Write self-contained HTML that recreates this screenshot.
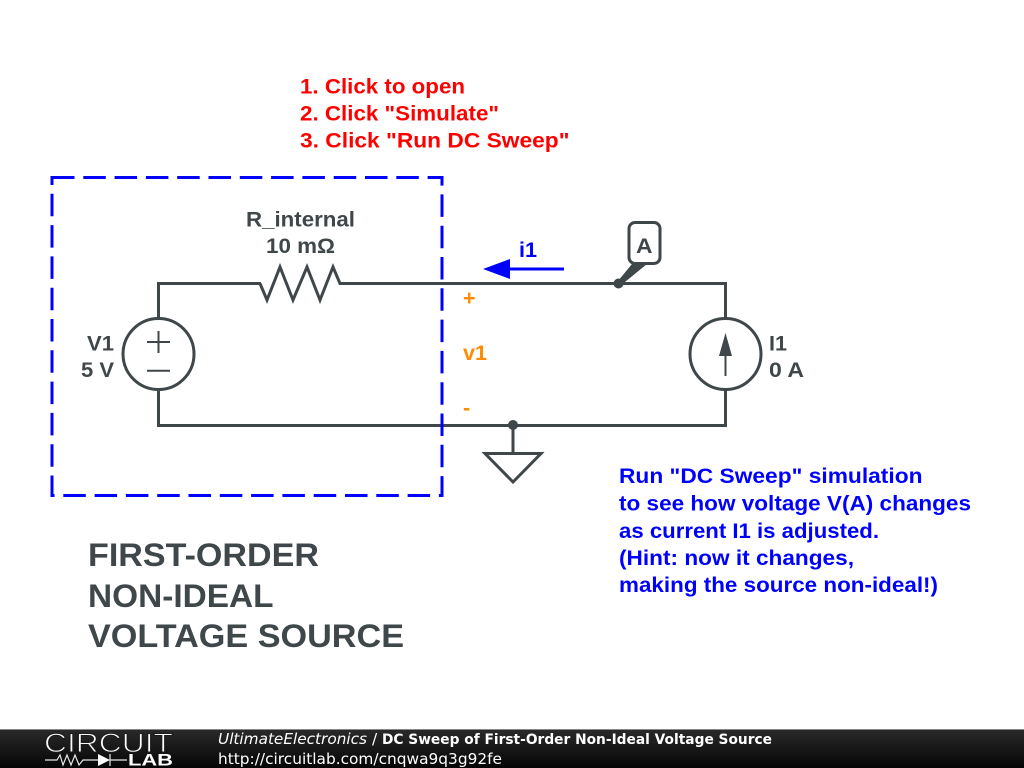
<!DOCTYPE html>
<html><head><meta charset="utf-8"><style>
html,body{margin:0;padding:0;background:#fff;width:1024px;height:768px;overflow:hidden}
svg{display:block}
text{font-family:"Liberation Sans",sans-serif;font-weight:bold}
.c{font-size:21.5px;fill:#3f474a}
.r{font-size:21.5px;fill:#f00}
.b{font-size:21.5px;fill:#00f}
.o{font-size:21.5px;fill:#ff8c00}
.t{font-size:32.5px;fill:#3f474a}
.f{font-family:"DejaVu Sans",sans-serif;font-size:15.4px;fill:#fff;font-weight:normal}
</style></head><body>
<svg width="1024" height="768" viewBox="0 0 1024 768" xmlns="http://www.w3.org/2000/svg">
<defs><linearGradient id="g" x1="0" y1="0" x2="0" y2="1"><stop offset="0" stop-color="#2a2a2a"/><stop offset="1" stop-color="#050505"/></linearGradient></defs>
<g fill="none" stroke="#3f474a" stroke-width="3">
<path d="M261 283.5H158.500V319M158.500 389V425.500H725.500V389M725.500 319V283.500H340"/>
<path d="M260 283.500L267 300L280 267L293 300L307 267L320 300L333 267L340 283.500H343"/>
<circle cx="158.500" cy="354" r="35.500"/>
<circle cx="725.500" cy="354" r="35.500"/>
<path d="M513 425V453M485 453.500H541L513 482Z"/>
<rect x="629" y="222.500" width="31" height="41" rx="6"/>
</g>
<g stroke="#3f474a" stroke-width="2" fill="none">
<path d="M147 342H170M158.500 331V353M147 370.700H170M725.500 376V345"/>
</g>
<path d="M725.500 333L732 356H719Z" fill="#3f474a"/>
<circle cx="618.500" cy="283.500" r="5" fill="#3f474a"/>
<circle cx="513" cy="425" r="5" fill="#3f474a"/>
<path d="M618 281L632 264H647L620 286Z" fill="#3f474a"/>
<path d="M52 177.500H442V495.500H52Z" fill="none" stroke="#00f" stroke-width="3" stroke-dasharray="22.500 8.800"/>
<path d="M509 269H564" stroke="#00f" stroke-width="3"/>
<path d="M483 269L510 259V279Z" fill="#00f"/>
<text class="r" x="300" y="93.500" textLength="165" lengthAdjust="spacingAndGlyphs">1. Click to open</text>
<text class="r" x="300" y="120.500" textLength="199" lengthAdjust="spacingAndGlyphs">2. Click "Simulate"</text>
<text class="r" x="300" y="147.500" textLength="269.500" lengthAdjust="spacingAndGlyphs">3. Click "Run DC Sweep"</text>
<text class="c" x="246" y="226.500" textLength="109" lengthAdjust="spacingAndGlyphs">R_internal</text>
<text class="c" x="266" y="253" textLength="69" lengthAdjust="spacingAndGlyphs">10 mΩ</text>
<text class="c" x="87" y="350.500" textLength="27" lengthAdjust="spacingAndGlyphs">V1</text>
<text class="c" x="81" y="377" textLength="33" lengthAdjust="spacingAndGlyphs">5 V</text>
<text class="c" x="769" y="350.500" textLength="18" lengthAdjust="spacingAndGlyphs">I1</text>
<text class="c" x="769" y="377" textLength="35" lengthAdjust="spacingAndGlyphs">0 A</text>
<text class="c" x="636" y="253" textLength="16.500" lengthAdjust="spacingAndGlyphs">A</text>
<text class="b" x="519" y="257" textLength="18" lengthAdjust="spacingAndGlyphs">i1</text>
<text class="o" x="463" y="305">+</text>
<text class="o" x="463" y="360" textLength="24" lengthAdjust="spacingAndGlyphs">v1</text>
<text class="o" x="463" y="415">-</text>
<text class="b" x="619" y="483" textLength="303.500" lengthAdjust="spacingAndGlyphs">Run "DC Sweep" simulation</text>
<text class="b" x="619" y="510.500" textLength="352" lengthAdjust="spacingAndGlyphs">to see how voltage V(A) changes</text>
<text class="b" x="619" y="538" textLength="260" lengthAdjust="spacingAndGlyphs">as current I1 is adjusted.</text>
<text class="b" x="619" y="565" textLength="235" lengthAdjust="spacingAndGlyphs">(Hint: now it changes,</text>
<text class="b" x="619" y="592" textLength="319" lengthAdjust="spacingAndGlyphs">making the source non-ideal!)</text>
<text class="t" x="88" y="566" textLength="231" lengthAdjust="spacingAndGlyphs">FIRST-ORDER</text>
<text class="t" x="88" y="607" textLength="185.500" lengthAdjust="spacingAndGlyphs">NON-IDEAL</text>
<text class="t" x="88" y="647" textLength="316" lengthAdjust="spacingAndGlyphs">VOLTAGE SOURCE</text>
<rect x="0" y="729" width="1024" height="39" fill="url(#g)"/>
<rect x="0" y="729" width="1024" height="1" fill="#888"/>
<text x="44" y="752" textLength="129" lengthAdjust="spacingAndGlyphs" style="font-weight:normal;font-size:26.5px;fill:#fff;stroke:#1c1c1c;stroke-width:1">CIRCUIT</text>
<path d="M45 760H57L60 755L63 765L67 755L71 765L75 755L79 765L83 760H98M127 760H110M110 754V766" stroke="#e8e8e8" stroke-width="1.200" fill="none"/>
<path d="M98 754V766L110 760Z" fill="#fff"/>
<text x="128" y="765.500" textLength="45" lengthAdjust="spacingAndGlyphs" style="font-size:16.700px;fill:#fff">LAB</text>
<text class="f" x="218" y="744" font-style="italic" textLength="149" lengthAdjust="spacingAndGlyphs">UltimateElectronics</text>
<text class="f" x="372" y="744">/</text>
<text class="f" x="382" y="744" style="font-weight:bold;font-size:13.800px" textLength="390" lengthAdjust="spacingAndGlyphs">DC Sweep of First-Order Non-Ideal Voltage Source</text>
<text class="f" x="218" y="764" textLength="284" lengthAdjust="spacingAndGlyphs">http://circuitlab.com/cnqwa9q3g92fe</text>
</svg>
</body></html>
